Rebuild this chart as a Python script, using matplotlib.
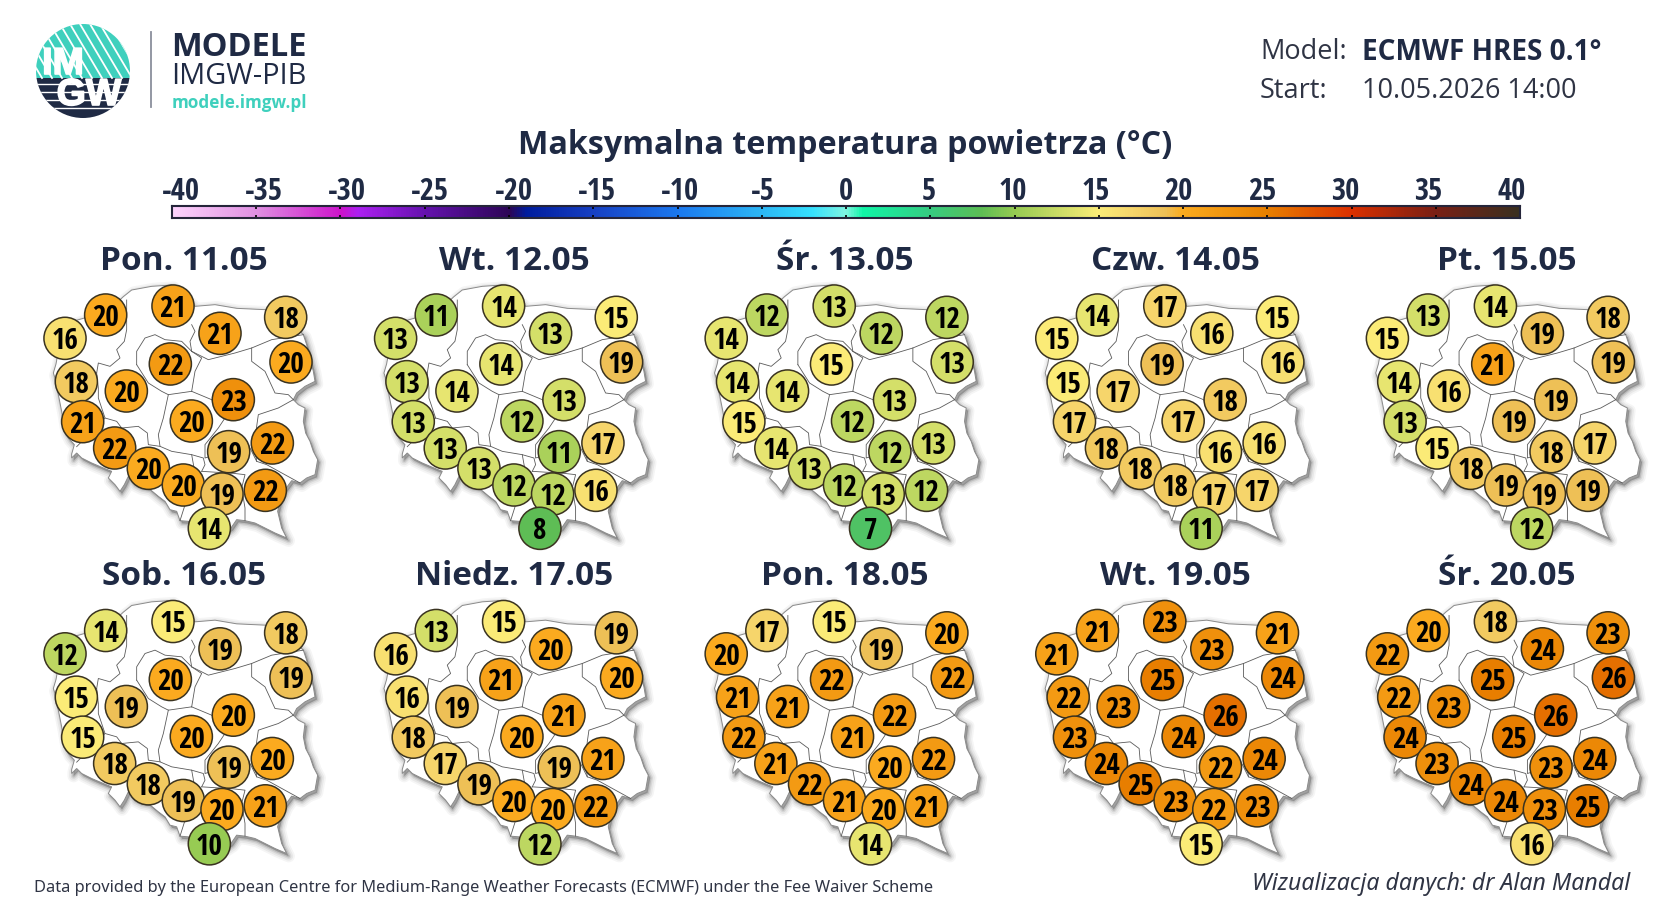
import numpy as np
import matplotlib
matplotlib.use("Agg")
import matplotlib.pyplot as plt
import matplotlib.patheffects as pe
from matplotlib.colors import LinearSegmentedColormap, Normalize
from matplotlib.patches import Circle, Polygon, Rectangle

W, H = 1680, 900
NAVY = "#1f2a44"
GRAY_TEXT = "#2f3444"
TEAL = "#3fd0bd"
NARROW = ["Open Sans Condensed", "Roboto Condensed", "Liberation Sans", "DejaVu Sans"]

# dni i wartosci (kolejnosc punktow jak w station_x / station_y)
days = ["Pon. 11.05", "Wt. 12.05", "Śr. 13.05", "Czw. 14.05", "Pt. 15.05",
        "Sob. 16.05", "Niedz. 17.05", "Pon. 18.05", "Wt. 19.05", "Śr. 20.05"]
values = [
    [20, 21, 21, 18, 16, 20, 22, 18, 20, 23, 20, 21, 22, 22, 19, 20, 20, 22, 19, 14],
    [11, 14, 13, 15, 13, 19, 14, 13, 14, 13, 12, 13, 13, 17, 11, 13, 12, 16, 12, 8],
    [12, 13, 12, 12, 14, 13, 15, 14, 14, 13, 12, 15, 14, 13, 12, 13, 12, 12, 13, 7],
    [14, 17, 16, 15, 15, 16, 19, 15, 17, 18, 17, 17, 18, 16, 16, 18, 18, 17, 17, 11],
    [13, 14, 19, 18, 15, 19, 21, 14, 16, 19, 19, 13, 15, 17, 18, 18, 19, 19, 19, 12],
    [14, 15, 19, 18, 12, 19, 20, 15, 19, 20, 20, 15, 18, 20, 19, 18, 19, 21, 20, 10],
    [13, 15, 20, 19, 16, 20, 21, 16, 19, 21, 20, 18, 17, 21, 19, 19, 20, 22, 20, 12],
    [17, 15, 19, 20, 20, 22, 22, 21, 21, 22, 21, 22, 21, 22, 20, 22, 21, 21, 20, 14],
    [21, 23, 23, 21, 21, 24, 25, 22, 23, 26, 24, 23, 24, 24, 22, 25, 23, 23, 22, 15],
    [20, 18, 24, 23, 22, 26, 25, 22, 23, 26, 25, 24, 23, 24, 23, 24, 24, 25, 23, 16],
]

# polozenie punktow na mapie
station_x = [257, 459, 600, 797, 135, 813, 451, 169, 319, 640, 514, 188, 284, 757, 626, 385, 490, 736, 606, 568]
station_y = [225, 198, 280, 232, 295, 366, 372, 425, 453, 479, 543, 545, 624, 609, 635, 685, 735, 751, 762, 865]

# kontur Polski
outline = [(100, 399), (108, 372), (112, 350), (135, 335), (155, 245), (190, 235), (262, 215), (310, 170),
           (335, 150), (395, 139), (455, 135), (525, 199), (585, 194), (650, 205), (735, 209), (780, 220),
           (850, 284), (860, 314), (870, 354), (880, 394), (885, 424), (855, 439), (830, 459), (820, 479),
           (835, 494), (855, 504), (850, 544), (857, 579), (870, 604), (880, 634), (893, 659), (885, 704),
           (860, 714), (840, 729), (815, 722), (795, 749), (780, 784), (773, 814), (785, 864), (800, 894),
           (765, 879), (735, 864), (705, 849), (675, 842), (650, 839), (633, 864), (570, 905), (505, 844),
           (480, 842), (470, 814), (450, 809), (435, 784), (415, 769), (385, 744), (360, 739), (340, 729),
           (325, 709), (313, 734), (300, 754), (285, 734), (265, 714), (275, 694), (255, 686), (215, 669),
           (185, 654), (170, 639), (155, 654), (155, 642), (163, 614), (145, 594), (135, 574), (125, 514),
           (105, 414)]

# granice wojewodztw
borders = [
    [(320, 180), (320, 269), (313, 304), (290, 329), (300, 354), (270, 379), (235, 369), (230, 399), (120, 385)],
    [(230, 399), (235, 444), (235, 474), (255, 534), (170, 620)],
    [(255, 534), (290, 544), (305, 564), (355, 559), (382, 579), (385, 614), (420, 619)],
    [(515, 254), (525, 274), (510, 304), (515, 334)],
    [(350, 374), (350, 334), (375, 294), (405, 284), (435, 299), (485, 304), (515, 334), (545, 354), (525, 394), (515, 454)],
    [(350, 374), (385, 429), (425, 454), (445, 464), (515, 454)],
    [(515, 334), (565, 359), (645, 339), (695, 324), (755, 299), (850, 284)],
    [(695, 324), (695, 364), (735, 394), (765, 459), (805, 464), (820, 479)],
    [(820, 479), (775, 504), (715, 524), (710, 559), (705, 624), (710, 664), (740, 674), (840, 729)],
    [(515, 454), (575, 479), (615, 534), (595, 564), (555, 614), (555, 654), (685, 614), (710, 664)],
    [(445, 464), (430, 534), (415, 584), (420, 619), (455, 634), (515, 644), (550, 654), (555, 674), (545, 694)],
    [(515, 644), (525, 700), (480, 842)],
    [(545, 694), (640, 700), (675, 704), (665, 744), (675, 804), (675, 842)],
]

# skala kolorow
cbar_ticks = list(range(-40, 45, 5))
color_levels = [-40, -35, -30, -29, -25, -20, -19, -15, -10, -5, -2, 0, 1, 5, 8, 10, 15, 17, 19, 20, 25, 30, 35, 40]
color_values = ["#fdd3fc", "#e08fe2", "#cc12cc", "#ac20f2", "#6412ae", "#2c0556", "#001c9e", "#1740c4",
                "#1b78f0", "#2cb6f6", "#35e0ff", "#80f5e2", "#10f5a8", "#36cc82", "#5cbd55", "#95ca52",
                "#fbec78", "#f6d56b", "#eec057", "#fbab20", "#e88000", "#dc3000", "#7a1f15", "#3a3020"]

norm = Normalize(-40, 40)
stops = [(v + 40) / 80 for v in color_levels]
cmap = LinearSegmentedColormap.from_list("temp", list(zip(stops, color_values)), N=512)


def px_axes(x, y, w, h):
    return plt.gcf().add_axes([x / W, 1 - (y + h) / H, w / W, h / H])


plt.rcParams["font.family"] = ["Open Sans", "DejaVu Sans"]
fig = plt.figure(figsize=(W / 100, H / 100), dpi=100, facecolor="white")

# warstwa na teksty, wspolrzedne w pikselach
bg = fig.add_axes([0, 0, 1, 1])
bg.set_xlim(0, W)
bg.set_ylim(H, 0)
bg.axis("off")

# logo
logo = Circle((83, 71), 47, transform=bg.transData, facecolor="white", edgecolor="none")
bg.add_patch(logo)
top = Rectangle((36, 24), 94, 54, facecolor=TEAL, edgecolor="none")
bg.add_patch(top)
top.set_clip_path(logo)
bottom = Rectangle((36, 78), 94, 46, facecolor=NAVY, edgecolor="none")
bg.add_patch(bottom)
bottom.set_clip_path(logo)
for sx in range(0, 150, 10):
    ln, = bg.plot([sx, sx + 32], [24, 78], color="white", lw=1.3)
    ln.set_clip_path(logo)
for sy in [84, 92, 100, 108]:
    ln, = bg.plot([36, 130], [sy, sy], color="white", lw=1.0)
    ln.set_clip_path(logo)
heavy = [pe.withStroke(linewidth=1.2, foreground="white")]
bg.text(63, 64, "IM", color="white", fontsize=27, fontweight="bold", ha="center", va="center",
        family=["Liberation Sans", "DejaVu Sans"], path_effects=heavy)
bg.text(89, 95, "GW", color="white", fontsize=27, fontweight="bold", ha="center", va="center",
        family=["Liberation Sans", "DejaVu Sans"], path_effects=heavy)
bg.plot([151, 151], [32, 107], color="#8a8f9c", lw=1.3)
bg.text(171, 47, "MODELE", color=NAVY, fontsize=23.5, fontweight="bold", va="center")
bg.text(171, 76, "IMGW-PIB", color=NAVY, fontsize=20.8, va="center")
bg.text(172, 103, "modele.imgw.pl", color=TEAL, fontsize=12.3, fontweight="bold", va="center")

# naglowek z modelem
bg.text(1260, 52, "Model:", color=GRAY_TEXT, fontsize=19.5, va="center")
bg.text(1362, 52, "ECMWF HRES 0.1°", color=NAVY, fontsize=20.2, fontweight="bold", va="center")
bg.text(1260, 91, "Start:", color=GRAY_TEXT, fontsize=19.5, va="center")
bg.text(1362, 91, "10.05.2026 14:00", color=GRAY_TEXT, fontsize=19.5, va="center")

bg.text(845, 145, "Maksymalna temperatura powietrza (°C)", color=NAVY, fontsize=23.2,
        fontweight="bold", ha="center", va="center")

# pasek kolorow
cax = px_axes(172, 206, 1348, 12)
grad = np.linspace(-40, 40, 1024).reshape(1, -1)
cax.imshow(grad, extent=[-40, 40, 0, 1], aspect="auto", cmap=cmap, norm=norm)
cax.set_xlim(-40, 40)
cax.set_yticks([])
cax.set_xticks(cbar_ticks)
cax.set_xticklabels([])
cax.tick_params(axis="x", direction="in", top=True, bottom=True, length=2.5, width=1.2, color="black")
# etykiety leza troche ciasniej niz kreski
for t in cbar_ticks:
    cax.text(t * 0.987, 2.2, str(t), transform=cax.get_xaxis_transform(), color=NAVY, fontsize=22,
             fontweight="bold", ha="center", va="center", family=NARROW)
for s in cax.spines.values():
    s.set_color("#25253a")
    s.set_linewidth(1.5)

# panele z mapami
for i, (day, vals) in enumerate(zip(days, values)):
    col, row = i % 5, i // 5
    x0 = 20 + col * 330.6
    y0 = 240 + row * 315.5
    ax = px_axes(x0, y0, 330, 320)
    ax.set_xlim(0, 990)
    ax.set_ylim(960, 0)
    ax.axis("off")
    ax.patch.set_alpha(0)
    # rozmyty cien pod mapa
    shadow = [(x + 6, y + 8) for x, y in outline]
    for lw, a in [(9, 0.05), (6.5, 0.07), (4, 0.10), (2, 0.16)]:
        ax.add_patch(Polygon(shadow, closed=True, facecolor="#404040", edgecolor="#404040", lw=lw,
                             alpha=a, joinstyle="round", zorder=1))
    ax.add_patch(Polygon(outline, closed=True, facecolor="white", edgecolor="#8a8a8a", lw=0.7, zorder=2))
    for b in borders:
        bx, by = zip(*b)
        ax.plot(bx, by, color="#5a5a5a", lw=0.6, zorder=3)
    ax.scatter(station_x, station_y, s=920, c=vals, cmap=cmap, norm=norm, edgecolors="#3a3320",
               linewidths=1.1, zorder=4, clip_on=False)
    for sx, sy, v in zip(station_x, station_y, vals):
        ax.text(sx, sy, str(v), color="black", fontsize=21, fontweight="bold", ha="center",
                va="center_baseline", zorder=5, family=NARROW)
    bg.text(184 + col * 330.6, 261 + row * 315.5, day, color=NAVY, fontsize=24, fontweight="bold",
            ha="center", va="center")

# stopka
bg.text(34, 888, "Data provided by the European Centre for Medium-Range Weather Forecasts (ECMWF) under the Fee Waiver Scheme",
        color=GRAY_TEXT, fontsize=11.8, va="center", family=["Noto Sans", "DejaVu Sans"])
bg.text(1630, 884, "Wizualizacja danych: dr Alan Mandal", color=GRAY_TEXT, fontsize=16.6, style="italic",
        ha="right", va="center", family=["Noto Sans", "DejaVu Sans"])

fig.savefig("out.png", dpi=100, facecolor="white")
